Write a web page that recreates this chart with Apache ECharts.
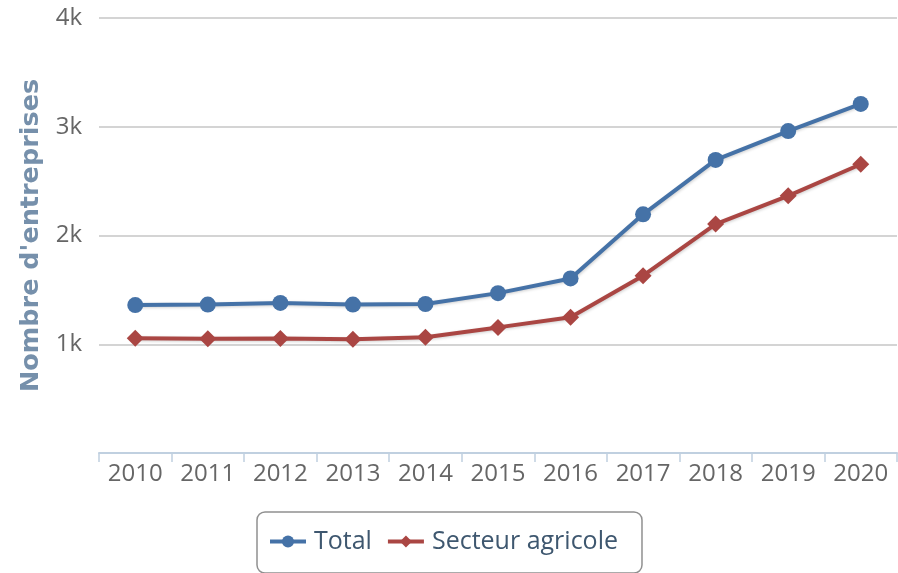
<!DOCTYPE html>
<html>
<head>
<meta charset="utf-8">
<script src="https://cdn.jsdelivr.net/npm/echarts@6/dist/echarts.min.js"></script>
<style>
html,body{margin:0;padding:0;background:#fff;}
#chart{width:898px;height:573px;}
</style>
</head>
<body>
<div id="chart"></div>
<script>
const categories = ['2010','2011','2012','2013','2014','2015','2016','2017','2018','2019','2020'];
const totalValues = [1360, 1365, 1380, 1365, 1370, 1470, 1605, 2195, 2695, 2960, 3210];
const agricoleValues = [1055, 1050, 1052, 1045, 1065, 1155, 1248, 1630, 2105, 2365, 2655];
const yTicks = [0, 1000, 2000, 3000, 4000];
const seriesNames = ['Total', 'Secteur agricole'];
const yTitle = "Nombre d'entreprises";

const chart = echarts.init(document.getElementById('chart'), null, {renderer: 'canvas'});
const shadow = {shadowColor: 'rgba(0,0,0,0.18)', shadowBlur: 3, shadowOffsetX: 1, shadowOffsetY: 1};

chart.setOption({
  animation: false,
  backgroundColor: '#fff',
  grid: {left: 99, right: 1, top: 18, bottom: 120, containLabel: false},
  legend: {
    data: seriesNames,
    left: 257,
    top: 512,
    orient: 'horizontal',
    padding: [17, 24, 19, 11],
    itemGap: 14,
    itemWidth: 36,
    itemHeight: 15,
    borderColor: '#909090',
    borderWidth: 1.5,
    borderRadius: 8,
    lineStyle: {width: 4},
    textStyle: {fontFamily: 'Open Sans', fontSize: 25, color: '#3E576F', padding: [0, 0, 0, 3]}
  },
  xAxis: {
    type: 'category',
    data: categories,
    boundaryGap: true,
    axisLine: {show: true, lineStyle: {color: '#C0D0E0', width: 2}},
    axisTick: {show: true, length: 9, alignWithLabel: false, lineStyle: {color: '#C0D0E0', width: 1.5}},
    axisLabel: {fontFamily: 'Open Sans', fontSize: 24, color: '#666', margin: 9},
    splitLine: {show: false}
  },
  yAxis: {
    type: 'value',
    min: yTicks[0],
    max: yTicks[yTicks.length - 1],
    interval: 1000,
    name: yTitle,
    nameLocation: 'middle',
    nameRotate: 90,
    nameGap: 52,
    nameTextStyle: {fontFamily: 'DejaVu Sans', fontWeight: 'bold', fontSize: 25.5, color: '#7690ab'},
    axisLine: {show: false},
    axisTick: {show: false},
    axisLabel: {
      fontFamily: 'Open Sans', fontSize: 24, color: '#666', margin: 17,
      formatter: v => v === 0 ? '' : (v / 1000) + 'k'
    },
    splitLine: {show: true, lineStyle: {color: '#C6C6C6', width: 1.5}}
  },
  series: [
    {
      name: seriesNames[0],
      type: 'line',
      data: totalValues,
      symbol: 'circle',
      symbolSize: 16,
      color: '#4572A7',
      lineStyle: Object.assign({width: 4, color: '#4572A7'}, shadow),
      itemStyle: {color: '#4572A7'}
    },
    {
      name: seriesNames[1],
      type: 'line',
      data: agricoleValues,
      symbol: 'diamond',
      symbolSize: 17,
      color: '#AA4643',
      lineStyle: Object.assign({width: 4, color: '#AA4643'}, shadow),
      itemStyle: {color: '#AA4643'}
    }
  ]
});
</script>
</body>
</html>
